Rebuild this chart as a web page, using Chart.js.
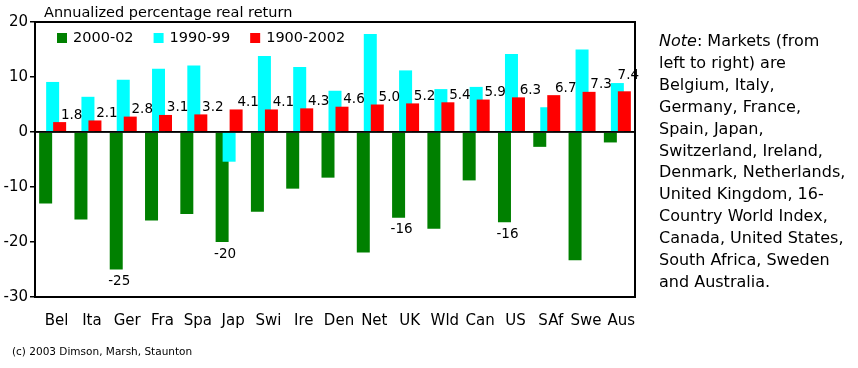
<!DOCTYPE html>
<html>
<head>
<meta charset="utf-8">
<script src="https://cdn.jsdelivr.net/npm/chart.js@4.4.1/dist/chart.umd.min.js"></script>
<style>
  html, body { margin: 0; padding: 0; background: #fff; }
  #wrap { position: relative; width: 858px; height: 368px; overflow: hidden; }
  #c { position: absolute; left: 0; top: 0; }
  #note { position: absolute; left: 659px; top: 30px; font: 16px "DejaVu Sans", sans-serif; line-height: 21.9px; color: #000; white-space: nowrap; }
  #copy { position: absolute; left: 12px; top: 345px; font: 10.5px "DejaVu Sans", sans-serif; color: #000; white-space: nowrap; }
</style>
</head>
<body>
<div id="wrap">
  <canvas id="c" width="858" height="368"></canvas>
  <div id="note"><i>Note</i>: Markets (from<br>left to right) are<br>Belgium, Italy,<br>Germany, France,<br>Spain, Japan,<br>Switzerland, Ireland,<br>Denmark, Netherlands,<br>United Kingdom, 16-<br>Country World Index,<br>Canada, United States,<br>South Africa, Sweden<br>and Australia.</div>
  <div id="copy">(c) 2003 Dimson, Marsh, Staunton</div>
</div>
<script>
const categories = ['Bel','Ita','Ger','Fra','Spa','Jap','Swi','Ire','Den','Net','UK','Wld','Can','US','SAf','Swe','Aus'];
const seriesNames = ['2000-02', '1990-99', '1900-2002'];
const ret2000_02 = [-13.0, -15.9, -25.0, -16.1, -14.9, -20.0, -14.5, -10.3, -8.3, -21.9, -15.6, -17.6, -8.8, -16.4, -2.7, -23.3, -1.9];
const ret1990_99 = [9.1, 6.4, 9.5, 11.5, 12.1, -5.4, 13.8, 11.8, 7.5, 17.8, 11.2, 7.8, 8.2, 14.2, 4.5, 15.0, 8.9];
const ret1900_2002 = [1.8, 2.1, 2.8, 3.1, 3.2, 4.1, 4.1, 4.3, 4.6, 5.0, 5.2, 5.4, 5.9, 6.3, 6.7, 7.3, 7.4];
const labels2000_02 = ['', '', '-25', '', '', '-20', '', '', '', '', '-16', '', '', '-16', '', '', ''];
const yTicks = [20, 10, 0, -10, -20, -30];
const chartTitle = 'Annualized percentage real return';

const FONT = '"DejaVu Sans", sans-serif';
const colors = ['#008000', '#00FFFF', '#FF0000'];

const drawPlugin = {
  id: 'drawPlugin',
  beforeDatasetsDraw(chart) {
    const ctx = chart.ctx, a = chart.chartArea;
    ctx.save();
    ctx.beginPath();
    ctx.rect(a.left, a.top, a.right - a.left, a.bottom - a.top);
    ctx.clip();
    for (let i = 0; i < chart.data.datasets.length; i++) {
      chart.getDatasetMeta(i).controller.draw();
    }
    ctx.restore();
    return false;
  },
  afterDraw(chart) {
    const ctx = chart.ctx, a = chart.chartArea;
    const y = chart.scales.y;
    ctx.save();
    ctx.strokeStyle = '#000';
    ctx.lineWidth = 1.5;
    ctx.beginPath();
    ctx.moveTo(a.left, y.getPixelForValue(0));
    ctx.lineTo(a.right, y.getPixelForValue(0));
    ctx.stroke();
    ctx.lineWidth = 2;
    ctx.strokeRect(a.left, a.top, a.right - a.left, a.bottom - a.top);

    ctx.fillStyle = '#000';
    ctx.font = '13.5px ' + FONT;
    ctx.textAlign = 'center';
    ctx.textBaseline = 'middle';
    const redMeta = chart.getDatasetMeta(2);
    redMeta.data.forEach((bar, i) => {
      const last = i === redMeta.data.length - 1;
      const dx = last ? 4 : 12;
      const dy = last ? 16 : 7;
      ctx.fillText(ret1900_2002[i].toFixed(1), bar.x + dx, bar.y - dy);
    });
    const greenMeta = chart.getDatasetMeta(0);
    greenMeta.data.forEach((bar, i) => {
      if (labels2000_02[i]) ctx.fillText(labels2000_02[i], bar.x + 3, bar.y + 12);
    });

    ctx.font = '14.5px ' + FONT;
    ctx.textAlign = 'left';
    let lx = 57;
    const ly = 38;
    chart.data.datasets.forEach((ds) => {
      ctx.fillStyle = ds.backgroundColor;
      ctx.fillRect(lx, ly - 5, 10, 10);
      ctx.fillStyle = '#000';
      ctx.fillText(ds.label, lx + 16, ly);
      lx += 16 + ctx.measureText(ds.label).width + 20;
    });

    ctx.font = '14.5px ' + FONT;
    ctx.textBaseline = 'middle';
    ctx.fillText(chartTitle, 44, 13);
    ctx.restore();
  }
};

new Chart(document.getElementById('c'), {
  type: 'bar',
  data: {
    labels: categories,
    datasets: [
      { label: seriesNames[0], data: ret2000_02, backgroundColor: colors[0] },
      { label: seriesNames[1], data: ret1990_99, backgroundColor: colors[1] },
      { label: seriesNames[2], data: ret1900_2002, backgroundColor: colors[2] }
    ]
  },
  options: {
    responsive: false,
    animation: false,
    devicePixelRatio: 1,
    categoryPercentage: 0.595,
    barPercentage: 1.857,
    layout: { padding: { left: 0, top: 22, right: 223, bottom: 0 } },
    plugins: { legend: { display: false }, title: { display: false }, tooltip: { enabled: false } },
    scales: {
      x: {
        afterFit(s) { s.height = 71; },
        grid: { display: false, drawTicks: false },
        border: { display: false },
        ticks: { color: '#000', font: { family: FONT, size: 15 }, padding: 15, labelOffset: 4, maxRotation: 0, autoSkip: false }
      },
      y: {
        min: -30, max: 20,
        afterFit(s) { s.width = 35; },
        afterBuildTicks(s) { s.ticks = yTicks.map(v => ({ value: v })); },
        border: { display: false },
        grid: {
          color: (c) => (c.tick && c.tick.value === 0) ? '#000' : 'rgba(0,0,0,0)',
          tickColor: '#000', tickLength: 5, lineWidth: 1.5
        },
        ticks: { color: '#000', font: { family: FONT, size: 15 }, padding: 2 }
      }
    }
  },
  plugins: [drawPlugin]
});
</script>
</body>
</html>
